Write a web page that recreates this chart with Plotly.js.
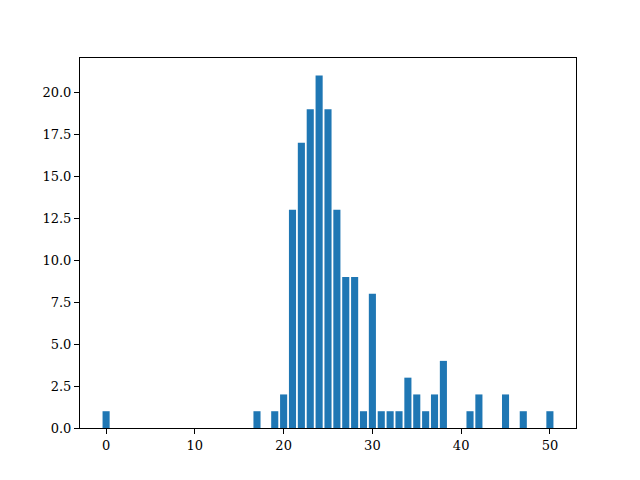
<!DOCTYPE html>
<html>
<head>
<meta charset="utf-8">
<script src="https://cdn.plot.ly/plotly-3.0.1.min.js"></script>
<style>html,body{margin:0;padding:0;background:#fff;}#chart{width:640px;height:480px;}</style>
</head>
<body>
<div id="chart"></div>
<script>
const xValues = [0, 17, 19, 20, 21, 22, 23, 24, 25, 26, 27, 28, 29, 30, 31, 32, 33, 34, 35, 36, 37, 38, 41, 42, 45, 47, 50];
const counts  = [1, 1, 1, 2, 13, 17, 19, 21, 19, 13, 9, 9, 1, 8, 1, 1, 1, 3, 2, 1, 2, 4, 1, 2, 2, 1, 1];
const xTicks = [0, 10, 20, 30, 40, 50];
const yTicks = [0, 2.5, 5, 7.5, 10, 12.5, 15, 17.5, 20];
const yTickText = ['0.0', '2.5', '5.0', '7.5', '10.0', '12.5', '15.0', '17.5', '20.0'];

const xMin = Math.min(...xValues) - 0.4, xMax = Math.max(...xValues) + 0.4;
const xPad = (xMax - xMin) * 0.05;
const yMax = Math.max(...counts) * 1.05;

const axisCommon = {
  showgrid: false, zeroline: false, showline: true, linecolor: '#000', linewidth: 1,
  mirror: true, ticks: 'outside', ticklen: 5, tickwidth: 1, tickcolor: '#000',
  tickfont: {family: 'DejaVu Serif', size: 13, color: '#000'}
};

Plotly.newPlot('chart', [{
  type: 'bar', x: xValues, y: counts, width: 0.8,
  marker: {color: '#1f77b4', line: {width: 0}}
}], {
  width: 640, height: 480,
  margin: {l: 80, r: 64, t: 58, b: 52},
  paper_bgcolor: '#fff', plot_bgcolor: '#fff',
  showlegend: false,
  xaxis: Object.assign({}, axisCommon, {range: [xMin - xPad, xMax + xPad], tickvals: xTicks, ticktext: xTicks.map(String)}),
  yaxis: Object.assign({}, axisCommon, {range: [0, yMax], tickvals: yTicks, ticktext: yTickText})
}, {staticPlot: true});
</script>
</body>
</html>
